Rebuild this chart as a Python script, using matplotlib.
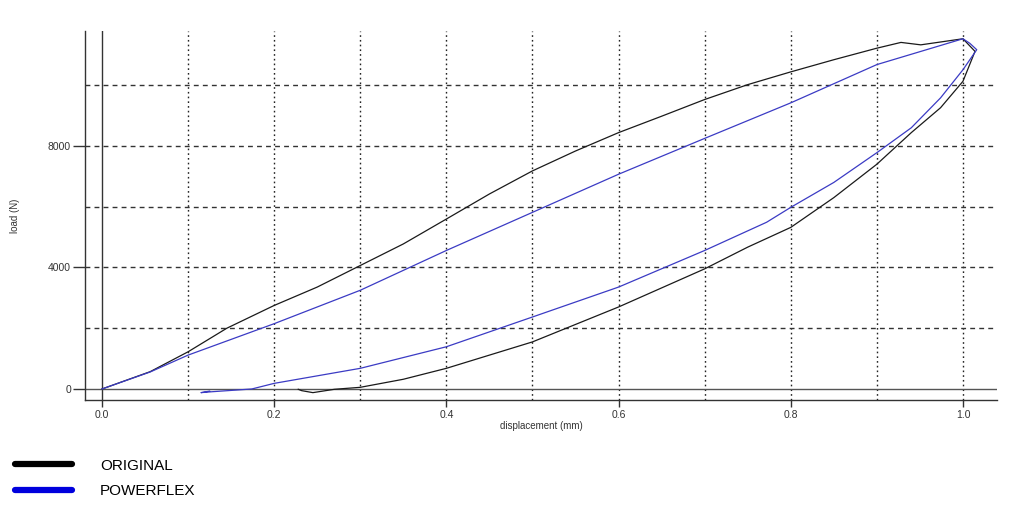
import matplotlib
matplotlib.use("Agg")
import matplotlib.pyplot as plt
from matplotlib.lines import Line2D

plt.rcParams['font.family'] = ['Liberation Sans', 'DejaVu Sans']

# ORIGINAL hysteresis loop (loading then unloading)
original_disp = [0.0, 0.056, 0.1, 0.145, 0.2, 0.25, 0.3, 0.35, 0.4, 0.45, 0.5, 0.55,
                 0.6, 0.65, 0.7, 0.75, 0.8, 0.85, 0.9, 0.928, 0.951, 1.0,
                 1.014, 1.0, 0.974, 0.94, 0.9, 0.85, 0.8, 0.75, 0.7, 0.6, 0.5,
                 0.4, 0.35, 0.3, 0.27, 0.245, 0.232, 0.228]
original_load = [0, 570, 1224, 2000, 2750, 3355, 4065, 4775, 5595, 6420, 7180, 7835,
                 8440, 8980, 9530, 10020, 10440, 10840, 11220, 11410, 11330, 11530,
                 11115, 10130, 9260, 8440, 7400, 6300, 5320, 4670, 3955, 2700, 1550,
                 680, 320, 55, -10, -120, -55, -10]

# POWERFLEX hysteresis loop
powerflex_disp = [0.0, 0.056, 0.1, 0.2, 0.3, 0.4, 0.5, 0.6, 0.7, 0.8, 0.9, 1.0,
                  1.008, 1.016, 1.0, 0.974, 0.94, 0.9, 0.85, 0.8, 0.772, 0.7, 0.6,
                  0.5, 0.4, 0.3, 0.2, 0.174, 0.128, 0.115, 0.125]
powerflex_load = [0, 560, 1115, 2150, 3250, 4560, 5815, 7070, 8250, 9420, 10680, 11530,
                  11380, 11170, 10510, 9585, 8600, 7780, 6800, 5980, 5490, 4560, 3355,
                  2370, 1390, 680, 185, 0, -90, -120, -70]

series_names = ["ORIGINAL", "POWERFLEX"]

fig = plt.figure(figsize=(10.24, 5.2), dpi=100)
ax = fig.add_axes([0.083, 0.2308, 0.8906, 0.7096])

ax.set_xlim(-0.0197, 1.0395)
ax.set_ylim(-362, 11786)

# grid: dotted verticals, dashed horizontals
for gx in [0.1, 0.2, 0.3, 0.4, 0.5, 0.6, 0.7, 0.8, 0.9, 1.0]:
    ax.axvline(gx, color='#222222', lw=1.0, ls=(0, (1.2, 2.2)), zorder=1)
for gy in [2000, 4000, 6000, 8000, 10000]:
    ax.axhline(gy, color='#333333', lw=1.0, ls=(0, (3.5, 3.0)), zorder=1)

ax.axvline(0, color='#333333', lw=1.0, zorder=2)
ax.axhline(0, color='#555555', lw=1.0, zorder=2)

ax.plot(original_disp, original_load, color='#1a1a1a', lw=0.9, zorder=3)
ax.plot(powerflex_disp, powerflex_load, color='#3b3bc4', lw=0.9, zorder=4)

for s in ['top', 'right']:
    ax.spines[s].set_visible(False)
for s in ['left', 'bottom']:
    ax.spines[s].set_color('#333333')
    ax.spines[s].set_linewidth(1.0)

ax.set_xticks([0.0, 0.2, 0.4, 0.6, 0.8, 1.0])
ax.set_xticklabels(['0.0', '0.2', '0.4', '0.6', '0.8', '1.0'])
ax.set_yticks([0, 4000, 8000])
ax.set_yticklabels(['0', '4000', '8000'])
ax.tick_params(axis='x', length=5, width=1, color='#333333', labelsize=7.5, pad=2, labelcolor='#333333')
ax.tick_params(axis='y', length=9, width=1, color='#333333', labelsize=7.5, pad=1, labelcolor='#333333')

ax.set_xlabel('displacement (mm)', fontsize=7, color='#333333', labelpad=1)
ax.set_ylabel('load (N)', fontsize=7, color='#333333', labelpad=20)

# legend below the plot
handles = [Line2D([0], [0], color='#000000', lw=4.5, solid_capstyle='round'),
           Line2D([0], [0], color='#0000dd', lw=4.5, solid_capstyle='round')]
fig.legend(handles, series_names, loc='upper left', bbox_to_anchor=(0.009, 0.13),
           frameon=False, fontsize=11, handlelength=3.7, handletextpad=1.85,
           labelspacing=0.75, borderaxespad=0)

fig.savefig('out.png', dpi=100)
